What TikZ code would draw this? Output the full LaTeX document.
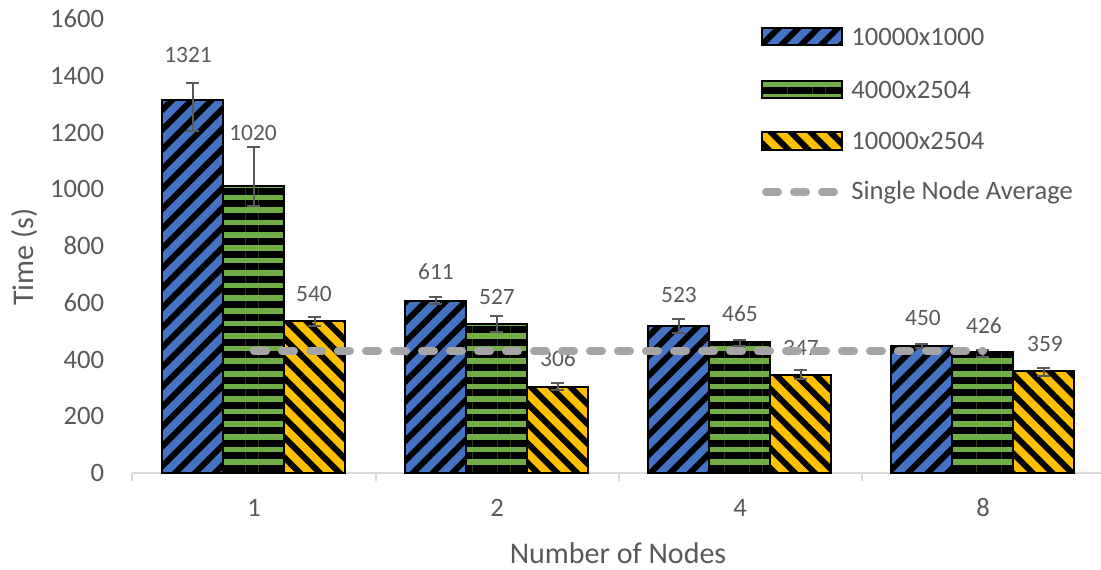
\documentclass[tikz,border=0pt]{standalone}
\usepackage{fontspec}
\setmainfont{Carlito}
\usepackage{tikz}
\usetikzlibrary{patterns.meta}
\definecolor{barblue}{HTML}{4472C4}
\definecolor{bargreen}{HTML}{70AD47}
\definecolor{barorange}{HTML}{FFC000}
\definecolor{txtgray}{HTML}{595959}
\definecolor{axgray}{HTML}{D9D9D9}
\definecolor{avggray}{HTML}{A5A5A5}

\begin{document}
\begin{tikzpicture}
[x=0.5pt,y=0.141875pt
,bar/.style={draw=black,line width=1pt,pattern color=black}
,b1/.style={bar,preaction={fill=barblue},pattern={Lines[angle=45,distance=7pt,line width=3pt]}}
,b2/.style={bar,preaction={fill=bargreen},pattern={Lines[angle=0,distance=6.3pt,line width=3.5pt]}}
,b3/.style={bar,preaction={fill=barorange},pattern={Lines[angle=-45,distance=7pt,line width=3pt]}}
,err/.style={draw=txtgray,line width=1pt}
,avg/.style={draw=avggray,line width=4pt,line cap=round,dash pattern=on 6pt off 8pt}
,ticklbl/.style={text=txtgray,font=\fontsize{13.3}{16}\selectfont,inner sep=0pt}
,val/.style={text=txtgray,font=\fontsize{11.7}{14}\selectfont,inner sep=0pt}
,ttl/.style={text=txtgray,font=\fontsize{15}{18}\selectfont,inner sep=0pt}
]
\useasboundingbox (0,-338.33) rectangle (1101,1666.96);

% axis
\draw[axgray,line width=1pt] (132,0) -- (1104,0);
\foreach \x in {132,376,619,862,1104}
  \draw[axgray,line width=1pt] (\x,0) -- (\x,-28);
\foreach \v in {0,200,...,1600}
  \node[ticklbl,anchor=east] (y\v) at (104.5,\v) {\v};
\foreach \c/\n in {254/1,497/2,740/4,983/8}
  \node[ticklbl] (x\n) at (\c,-123) {\n};
\node[ttl] (xtitle) at (618,-282) {Number of Nodes};
\node[ttl,rotate=90] (ytitle) at (25,761) {Time (s)};

% bars
\foreach \c/\va/\vb/\vc in {254/1313/1013/537,497/607/525/304,740/519/463/345,983/448/425/358}
{
  \draw[b1] (\c-92,0) rectangle (\c-31,\va);
  \draw[b2] (\c-31,0) rectangle (\c+30,\vb);
  \draw[b3] (\c+30,0) rectangle (\c+91,\vc);
}

% error bars
\foreach \x/\lo/\hi in {192.5/1205/1374,253.5/941/1149,314.5/518/550,
  435.5/596/620,496.5/497/553,557.5/293/317,
  678.5/493/543,739.5/448/469,800.5/331/363,
  921.5/441/455,982.5/409/433,1043.5/342/370}
{
  \draw[err] (\x,\lo) -- (\x,\hi);
  \draw[err] (\x-6.5,\lo) -- (\x+6.5,\lo);
  \draw[err] (\x-6.5,\hi) -- (\x+6.5,\hi);
}

% data labels
\node[val] (l11) at (188,1473) {1321};
\node[val] (l12) at (253,1198) {1020};
\node[val] (l13) at (314,631) {540};
\node[val] (l21) at (436,708) {611};
\node[val] (l22) at (497,620) {527};
\node[val] (l23) at (558,402) {306};
\node[val] (l31) at (679,627) {523};
\node[val] (l32) at (740,560) {465};
\node[val] (l33) at (801,441) {347};
\node[val] (l41) at (923,546) {450};
\node[val] (l42) at (984,518) {426};
\node[val] (l43) at (1045,455) {359};

% single node average
\draw[avg] (254,430) -- (983,430);

% legend
\foreach \yy/\s/\t in {1537/b1/10000x1000,1350/b2/4000x2504,1170/b3/10000x2504}
{
  \draw[\s] (762,\yy-30) rectangle (842,\yy+30);
  \node[ticklbl,anchor=west] at (851,\yy) {\t};
}
\draw[avg] (766,990) -- (838,990);
\node[ticklbl,anchor=west] (lavg) at (851,990) {Single Node Average};
\end{tikzpicture}
\end{document}
